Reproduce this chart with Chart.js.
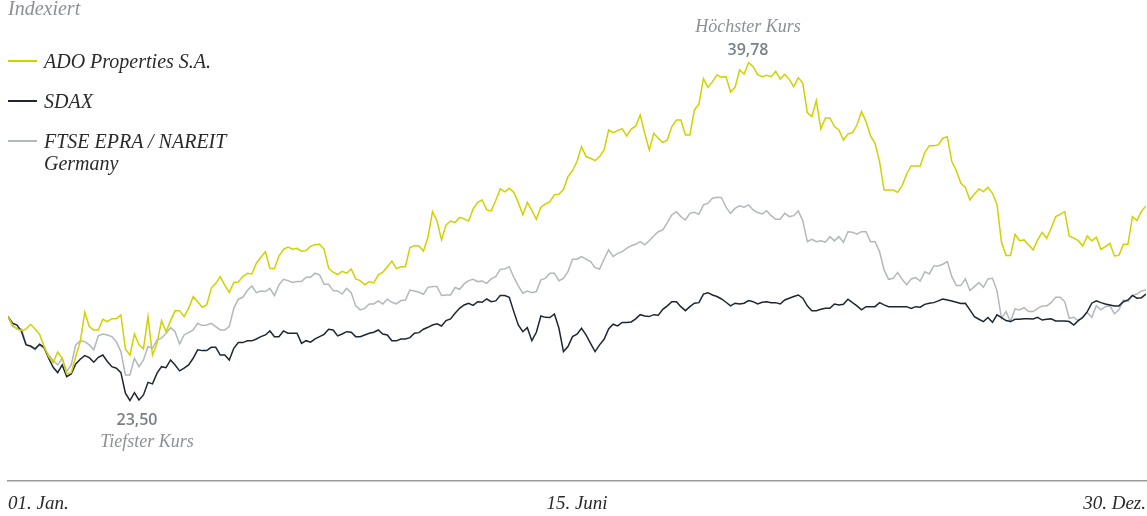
<!DOCTYPE html>
<html lang="de">
<head>
<meta charset="utf-8">
<title>ADO Properties – Kursverlauf indexiert</title>
<script src="https://cdn.jsdelivr.net/npm/chart.js@4.4.1/dist/chart.umd.min.js"></script>
<style>
  html, body { margin: 0; padding: 0; background: #fff; }
  #wrap { position: relative; width: 1147px; height: 516px; overflow: hidden; }
  #chart { position: absolute; left: 0; top: 0; }
  .hand { position: absolute; font-family: "Liberation Serif", serif; font-style: italic; white-space: nowrap; }
  .titel { left: 8px; top: -3px; font-size: 20px; color: #8c9095; }
  .leg { left: 44px; font-size: 20px; color: #2a2a2a; line-height: 22px; }
  .swatch { position: absolute; left: 8px; width: 29px; height: 2px; }
  .anno { font-size: 18px; color: #8c9095; transform: translateX(-50%); }
  .wert { position: absolute; font-family: "Open Sans", sans-serif; font-weight: 600; font-size: 16px; color: #7b8086; transform: translateX(-50%); }
</style>
</head>
<body>
<div id="wrap">
  <canvas id="chart" width="1147" height="516"></canvas>

  <div class="hand titel">Indexiert</div>

  <div class="swatch" style="top:60px;background:#d0d200"></div>
  <div class="hand leg" style="top:50px">ADO Properties S.A.</div>
  <div class="swatch" style="top:100px;background:#1e2633"></div>
  <div class="hand leg" style="top:90px">SDAX</div>
  <div class="swatch" style="top:140px;background:#b3b8bc"></div>
  <div class="hand leg" style="top:130px">FTSE EPRA / NAREIT<br>Germany</div>

  <div class="hand anno" style="left:748px;top:16px">Höchster Kurs</div>
  <div class="wert" style="left:748px;top:38px">39,78</div>
  <div class="wert" style="left:137px;top:408px">23,50</div>
  <div class="hand anno" style="left:147px;top:431px">Tiefster Kurs</div>
</div>

<script>
// Kurse indexiert auf ADO-Startkurs (EUR), ein Wert pro Handelstag
const ado = [
  26.50,26.06,25.85,25.77,25.85,26.10,25.85,25.57,24.93,24.41,24.09,24.65,24.32,23.50,23.57,24.41,25.19,26.73,25.98,25.80,25.80,26.36,26.24,26.39,26.39,26.59,24.81,24.48,25.59,25.02,24.82,26.50,24.48,25.10,26.29,25.71,26.29,26.80,26.81,26.50,26.93,27.54,27.28,26.99,27.11,27.98,28.24,28.59,28.15,27.77,
  28.28,28.31,28.59,28.77,28.73,29.29,29.60,29.90,29.01,29.01,29.67,30.02,30.13,30.02,30.07,29.92,29.95,30.19,30.26,30.28,30.02,29.03,28.82,28.70,28.87,28.77,28.99,28.47,28.38,28.16,28.33,28.26,28.68,28.82,29.11,29.41,29.01,29.11,29.11,30.11,30.21,30.19,29.93,30.65,31.99,31.50,30.51,31.29,31.50,31.42,31.69,
  31.61,31.50,32.13,32.48,32.60,32.08,32.03,32.57,33.18,33.02,33.21,33.00,32.46,31.82,32.48,32.04,31.59,32.22,32.39,32.51,32.88,32.90,33.16,33.82,34.13,34.61,35.39,34.87,34.78,34.66,34.87,35.22,36.26,36.12,36.23,36.33,35.95,36.31,36.47,37.05,36.09,35.22,36.09,35.83,35.60,35.74,36.44,36.78,36.78,36.00,36.00,
  37.31,37.62,38.95,38.49,38.79,39.14,39.02,39.05,38.25,38.49,39.40,39.19,39.78,39.57,39.16,39.05,39.12,39.05,39.33,38.93,39.17,38.91,38.53,39.00,38.70,37.17,36.96,37.80,36.31,36.89,36.89,36.44,36.26,35.74,36.05,36.12,36.52,37.22,36.70,35.95,35.56,34.61,33.12,33.12,33.12,33.00,33.35,33.96,34.38,34.38,34.38,
  35.08,35.44,35.44,35.48,35.83,35.91,34.61,34.13,33.47,33.25,32.60,32.91,33.18,33.04,33.26,32.95,32.37,30.39,29.69,29.69,30.80,30.47,30.51,30.25,29.99,30.51,30.91,30.60,31.12,31.73,31.85,31.99,30.72,30.60,30.47,30.19,30.72,30.46,30.65,30.02,30.16,30.33,29.67,29.71,30.28,30.28,31.73,31.52,32.02,32.29
];

const sdax = [
  26.50,26.15,26.06,25.71,25.02,24.96,24.81,25.05,24.89,24.32,23.85,23.57,23.97,23.36,23.50,24.02,24.27,24.46,24.35,24.11,24.37,24.49,24.15,23.88,23.80,23.57,22.49,22.11,22.52,22.14,22.40,23.06,22.98,23.54,23.88,23.83,24.23,23.97,23.66,23.80,23.97,24.32,24.76,24.72,24.72,24.89,24.89,24.49,24.49,24.23,
  24.84,25.14,25.14,25.23,25.23,25.33,25.45,25.54,25.75,25.45,25.45,25.75,25.63,25.63,25.63,25.10,25.24,25.16,25.33,25.45,25.57,25.84,25.80,25.49,25.59,25.71,25.68,25.45,25.45,25.54,25.63,25.68,25.80,25.59,25.54,25.24,25.23,25.33,25.33,25.40,25.63,25.66,25.84,25.94,26.06,26.12,26.01,26.29,26.38,26.67,26.93,
  27.11,27.20,27.09,27.28,27.25,27.42,27.28,27.32,27.60,27.60,27.51,26.76,26.06,25.71,25.92,25.24,25.68,26.53,26.46,26.45,26.64,25.89,24.67,24.93,25.45,25.58,25.89,25.54,25.10,24.67,25.02,25.31,25.85,26.10,26.01,26.19,26.19,26.22,26.38,26.60,26.53,26.50,26.60,26.57,26.88,27.06,27.28,27.28,27.02,26.81,27.02,
  27.20,27.23,27.68,27.75,27.63,27.55,27.42,27.25,27.06,27.20,27.16,27.20,27.34,27.28,27.16,27.25,27.27,27.23,27.23,27.16,27.37,27.46,27.55,27.63,27.46,27.06,26.81,26.81,26.88,26.93,26.93,27.16,27.11,27.14,27.41,27.23,27.06,26.85,27.02,27.02,27.02,27.23,27.11,27.02,27.02,27.02,27.02,27.02,26.93,27.02,26.99,
  27.14,27.20,27.23,27.32,27.42,27.37,27.32,27.25,27.18,27.20,26.85,26.50,26.36,26.24,26.45,26.20,26.59,26.45,26.29,26.24,26.36,26.36,26.39,26.39,26.38,26.46,26.32,26.36,26.38,26.27,26.27,26.27,26.24,26.06,26.29,26.45,26.76,27.20,27.32,27.23,27.16,27.11,27.06,27.06,27.28,27.37,27.61,27.46,27.49,27.68
];

const ftseEpra = [
  26.50,25.98,25.89,25.84,25.07,24.93,24.76,25.02,24.84,24.49,24.20,23.97,24.32,23.62,23.97,25.02,25.23,25.19,25.02,24.76,25.49,25.59,25.54,25.45,25.19,24.67,23.45,23.45,24.32,23.88,24.23,24.93,24.84,25.28,25.37,25.63,25.92,25.71,25.07,25.54,25.66,25.80,26.15,26.03,26.06,26.15,25.98,25.80,25.80,25.98,
  26.93,27.41,27.51,27.86,28.10,27.75,27.84,27.81,27.98,27.60,28.16,28.45,28.38,28.28,28.33,28.33,28.56,28.56,28.77,28.68,28.19,28.19,27.86,27.84,27.68,27.98,27.75,27.06,26.85,26.93,27.16,27.16,27.32,27.16,27.41,27.25,27.16,27.34,27.37,27.89,27.84,27.77,27.67,28.03,28.07,28.07,27.60,27.63,27.63,28.02,27.93,
  28.21,28.38,28.45,28.33,28.36,28.24,28.47,28.59,28.97,28.99,29.11,28.56,28.10,27.72,27.84,27.75,27.81,28.42,28.50,28.77,28.77,28.38,28.50,28.85,29.50,29.50,29.64,29.51,29.38,29.06,28.99,29.50,29.99,29.64,29.81,29.90,30.07,30.21,30.28,30.42,30.25,30.47,30.72,30.94,31.03,31.42,31.82,31.99,31.73,31.55,31.90,
  31.96,31.85,32.34,32.43,32.69,32.74,32.72,32.22,31.90,32.16,32.29,32.22,32.34,32.08,31.94,31.87,32.04,31.78,31.59,31.59,31.90,31.73,31.78,32.03,31.52,30.42,30.54,30.42,30.47,30.39,30.68,30.46,30.68,30.39,30.94,30.91,30.81,30.94,30.94,30.42,30.42,29.90,28.94,28.45,28.50,28.80,28.45,28.16,28.47,28.54,28.36,
  28.85,28.73,29.15,29.15,29.24,29.38,28.59,28.12,28.12,28.47,27.86,28.07,28.28,28.03,28.47,28.50,27.86,26.41,26.76,26.24,26.90,26.85,26.97,26.76,26.76,26.93,27.06,27.06,27.23,27.51,27.51,27.28,26.41,26.46,26.29,26.50,26.71,26.46,27.07,26.85,27.02,27.07,26.64,26.85,27.37,27.28,27.60,27.68,27.84,27.89
];

// Achsenbeschriftung: Handelstag-Index -> Datum
const tickTage = [0, 126, 252];
const tickLabels = ["01. Jan.", "15. Juni", "30. Dez."];

const toPoints = arr => arr.map((v, i) => ({ x: i, y: v }));

const serie = (label, data, farbe) => ({
  label: label,
  data: toPoints(data),
  borderColor: farbe,
  backgroundColor: farbe,
  borderWidth: 1.5,
  pointRadius: 0,
  tension: 0,
  fill: false
});

new Chart(document.getElementById("chart"), {
  type: "line",
  data: {
    datasets: [
      serie("ADO Properties S.A.", ado, "#d0d200"),
      serie("SDAX", sdax, "#1e2633"),
      serie("FTSE EPRA / NAREIT Germany", ftseEpra, "#b3b8bc")
    ]
  },
  options: {
    responsive: false,
    animation: false,
    layout: { padding: { left: 8, right: 1, top: 0, bottom: 0 } },
    plugins: { legend: { display: false }, tooltip: { enabled: false } },
    scales: {
      x: {
        type: "linear",
        min: 0,
        max: ado.length - 1,
        afterBuildTicks: s => { s.ticks = tickTage.map(v => ({ value: v })); },
        afterFit: s => { s.height = 35; s.paddingLeft = 0; s.paddingRight = 0; },
        grid: { display: false, drawTicks: false },
        border: { display: true, color: "#9a9a9a", width: 1.5 },
        ticks: {
          align: "inner",
          padding: 12,
          maxRotation: 0,
          autoSkip: false,
          color: "#2a2a2a",
          font: { family: "Liberation Serif", style: "italic", size: 19 },
          callback: v => tickLabels[tickTage.indexOf(v)] || ""
        }
      },
      y: {
        display: false,
        min: 17.90,
        max: 43.06
      }
    }
  }
});
</script>
</body>
</html>
